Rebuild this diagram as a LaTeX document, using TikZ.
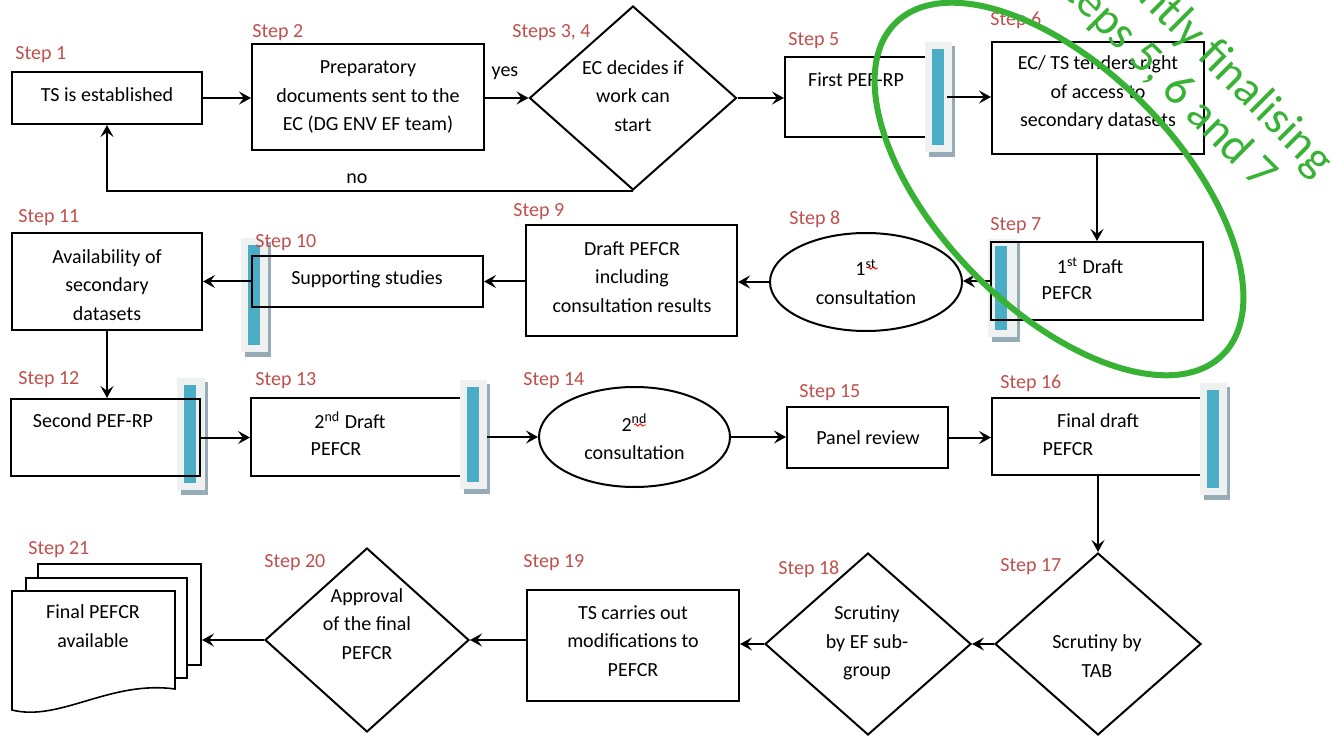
\documentclass[tikz,border=0pt]{standalone}
\usepackage{fontspec}
\setmainfont{Carlito}
\usetikzlibrary{shapes.geometric,arrows.meta,fit,decorations.pathmorphing}
\definecolor{steprd}{RGB}{192,80,77}
\definecolor{bkblue}{RGB}{75,172,198}
\definecolor{bkgray}{RGB}{239,240,240}
\definecolor{bkshadow}{RGB}{150,172,182}
\definecolor{markgreen}{RGB}{55,178,52}
\newcommand\bkmark[4]{%
  \fill[bkshadow] (#1+4,#2+4) rectangle (#3+3,#4+5);
  \fill[bkgray] (#1,#2) rectangle (#3,#4);
  \fill[bkblue] (#1+7,#2+7) rectangle (#1+19,#4-7);
}
\tikzset{
  box/.style={draw, line width=1pt, inner sep=0pt},
  dia/.style={draw, diamond, line width=1pt, inner sep=0pt},
  ell/.style={draw, ellipse, line width=1pt, inner sep=0pt, align=center},
  txt/.style={inner sep=0pt, align=center},
  steplbl/.style={text=steprd, anchor=west, inner sep=0pt},
  conn/.style={-{Stealth[length=6pt,width=6.5pt,inset=2.4pt]}, line width=1pt},
  squig/.style={red, line width=0.4pt, decorate, decoration={snake, amplitude=0.6pt, segment length=2.4pt}}
}
\begin{document}
\begin{tikzpicture}[x=0.5pt, y=-0.5pt, font=\fontsize{10}{14.2}\selectfont]
\fill[white] (0,0) rectangle (1331,737);
\useasboundingbox (0,0) rectangle (1331,737);

% ---- Row 1
\node[box, fit={(12,72)(202,124)}] (s1) {};
\node[txt] (s1t) at (107,95) {TS is established};
\node[box, fit={(252,44)(484,150)}] (s2) {};
\node[txt] (s2t) at (368,97) {Preparatory\\documents sent to the\\EC (DG ENV EF team)};
\node[dia, minimum width=103.5pt, minimum height=92pt] (s34) at (633,98) {};
\node[txt] (s34t) at (633,96) {EC decides if\\work can\\start};
\node[box, fit={(785,57)(946,137)}] (s5) {};
\node[txt] (s5t) at (856,80) {First PEF-RP};
\bkmark{925}{42}{952}{152}
\node[box, fit={(992,42)(1204,154)}] (s6) {};
\node[txt] (s6t) at (1098,93) {EC/ TS tenders right\\of access to\\secondary datasets};

\draw[conn] (s1.east) -- (s1.east -| s2.west);
\draw[conn] (s2.east |- s34.west) -- (s34.west);
\node[txt] (yes) at (505,73) {yes};
\draw[conn] (s34.east) -- (s34.east -| s5.west);
\draw[conn] (s5.east) -- (s5.east -| s6.west);
\draw[conn] (s34.south) -- (s34.south -| s1.south) -- (s1.south);
\node[txt] (no) at (357,179) {no};

% ---- Row 2
\bkmark{988}{239}{1017}{337}
\node[box, fit={(991,242)(1203,320)}] (s7) {};
\node[txt] (s7a) at (1090,266) {1\textsuperscript{st} Draft};
\node[txt] (s7b) at (1067,293) {PEFCR};
\draw[conn] (s6.south -| s7.north) -- (s7.north);
\node[ell, minimum width=96pt, minimum height=49pt] (s8) at (866,282) {1\textsuperscript{st}\\consultation};
\draw[conn] (s7.west) -- (s7.west -| s8.east);
\node[box, fit={(526,225)(737,336)}] (s9) {};
\node[txt] (s9t) at (632,277) {Draft PEFCR\\including\\consultation results};
\draw[conn] (s8.west) -- (s8.west -| s9.east);
\bkmark{241}{238}{268}{352}
\node[box, fit={(252,256)(483,307)}] (s10) {};
\node[txt] (s10t) at (367,279) {Supporting studies};
\draw[conn] (s9.west |- s10.east) -- (s10.east);
\node[box, fit={(12,233)(202,330)}] (s11) {};
\node[txt] (s11t) at (107,285) {Availability of\\secondary\\datasets};
\draw[conn] (s10.west) -- (s10.west -| s11.east);

% ---- Row 3
\bkmark{177}{378}{205}{490}
\node[box, fit={(11,399)(200,476)}] (s12) {};
\node[txt] (s12t) at (93,421) {Second PEF-RP};
\draw[conn] (s11.south) -- (s11.south |- s12.north);
\node[box, fit={(251,398)(486,476)}] (s13) {};
\node[txt] (s13a) at (350,420) {2\textsuperscript{nd} Draft};
\node[txt] (s13b) at (336,449) {PEFCR};
\bkmark{460}{380}{487}{489}
\draw[conn] (s12.east) -- (s12.east -| s13.west);
\node[ell, minimum width=95.5pt, minimum height=50pt] (s14) at (634.5,437) {2\textsuperscript{nd}\\consultation};
\draw[conn] (s13.east) -- (s13.east -| s14.west);
\node[box, fit={(787,407)(948,468)}] (s15) {};
\node[txt] (s15t) at (868,438) {Panel review};
\draw[conn] (s14.east) -- (s14.east -| s15.west);
\node[box, fit={(992,398)(1212,475)}] (s16) {};
\node[txt] (s16a) at (1098,421) {Final draft};
\node[txt] (s16b) at (1068,449) {PEFCR};
\bkmark{1200}{383}{1227}{495}
\draw[conn] (s15.east) -- (s15.east -| s16.west);

% ---- Row 4
\node[dia, minimum width=103pt, minimum height=91pt] (s17) at (1098,644) {};
\node[txt] (s17t) at (1097,656) {Scrutiny by\\TAB};
\draw[conn] (s17.north |- s16.south) -- (s17.north);
\node[dia, minimum width=103pt, minimum height=91pt] (s18) at (868,644) {};
\node[txt] (s18t) at (867,643) {Scrutiny\\by EF sub-\\group};
\draw[conn] (s17.west) -- (s18.east);
\node[box, fit={(527,590)(739,701)}] (s19) {};
\node[txt] (s19t) at (633,641) {TS carries out\\modifications to\\PEFCR};
\draw[conn] (s18.west) -- (s18.west -| s19.east);
\node[dia, minimum width=102pt, minimum height=92pt] (s20) at (367,640) {};
\node[txt] (s20t) at (367,624) {Approval\\of the final\\PEFCR};
\draw[conn] (s19.west |- s20.east) -- (s20.east);
% multi-document
\draw[line width=0.8pt, fill=white] (38,564) rectangle (201,665);
\draw[line width=0.8pt, fill=white] (26,578) rectangle (187,678);
\draw[line width=0.8pt, fill=white] (12,591) -- (175,591) -- (175,689)
   .. controls (110,680) and (60,722) .. (12,710) -- cycle;
\node[txt] (s21) at (93,626) {Final PEFCR\\available};
\coordinate (s21in) at (202,640);
\draw[conn] (s20.west) -- (s21in);

% squiggles
\draw[squig] (867,268) -- (878,268);
\draw[squig] (634,425) -- (646,425);

% ---- Step labels
\node[steplbl] (l1) at (15,55) {Step 1};
\node[steplbl] (l2) at (252,33) {Step 2};
\node[steplbl] (l34) at (512,33) {Steps 3, 4};
\node[steplbl] (l5) at (788,41) {Step 5};
\node[steplbl] (l6) at (990,20) {Step 6};
\node[steplbl] (l7) at (990,226) {Step 7};
\node[steplbl] (l8) at (789,219) {Step 8};
\node[steplbl] (l9) at (513,212) {Step 9};
\node[steplbl] (l10) at (255,243) {Step 10};
\node[steplbl] (l11) at (18,218) {Step 11};
\node[steplbl] (l12) at (18,380) {Step 12};
\node[steplbl] (l13) at (255,381) {Step 13};
\node[steplbl] (l14) at (523,381) {Step 14};
\node[steplbl] (l15) at (799,393) {Step 15};
\node[steplbl] (l16) at (1000,383) {Step 16};
\node[steplbl] (l17) at (1000,567) {Step 17};
\node[steplbl] (l18) at (778,569) {Step 18};
\node[steplbl] (l19) at (523,563) {Step 19};
\node[steplbl] (l20) at (264,563) {Step 20};
\node[steplbl] (l21) at (28,550) {Step 21};

% ---- Green highlight
\begin{scope}
\clip (0,0) rectangle (1331,737);
\node[draw=markgreen, line width=3pt, ellipse, minimum width=233pt, minimum height=120pt, inner sep=0pt, rotate=-45.5] (hl) at (1059,189) {};
\node[text=markgreen, font=\fontsize{23.5}{24.8}\selectfont, align=center, inner sep=0pt, rotate=-45] (hlt) at (1181,60) {Currently finalising\\steps 5, 6 and 7};
\end{scope}
\end{tikzpicture}
\end{document}
